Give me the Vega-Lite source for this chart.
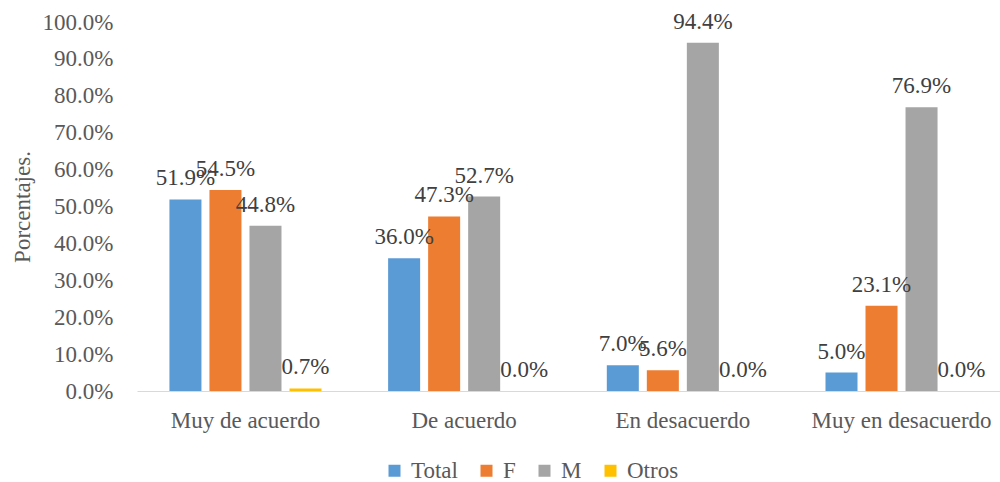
{
  "$schema": "https://vega.github.io/schema/vega-lite/v6.json",
  "width": 863,
  "height": 369,
  "autosize": "none",
  "padding": {"left": 137, "top": 22, "right": 0, "bottom": 91},
  "background": "white",
  "config": {
    "font": "Liberation Serif",
    "view": {"stroke": null},
    "style": {
      "guide-label": {"font": "Liberation Serif"},
      "guide-title": {"font": "Liberation Serif"}
    },
    "mark": {"font": "Liberation Serif"},
    "text": {"font": "Liberation Serif"},
    "legend": {"labelFont": "Liberation Serif"}
  },
  "data": {
    "values": [
      {"categoria": "Muy de acuerdo", "serie": "Total", "valor": 0.519},
      {"categoria": "Muy de acuerdo", "serie": "F", "valor": 0.545},
      {"categoria": "Muy de acuerdo", "serie": "M", "valor": 0.448},
      {"categoria": "Muy de acuerdo", "serie": "Otros", "valor": 0.007},
      {"categoria": "De acuerdo", "serie": "Total", "valor": 0.360},
      {"categoria": "De acuerdo", "serie": "F", "valor": 0.473},
      {"categoria": "De acuerdo", "serie": "M", "valor": 0.527},
      {"categoria": "De acuerdo", "serie": "Otros", "valor": 0.0},
      {"categoria": "En desacuerdo", "serie": "Total", "valor": 0.070},
      {"categoria": "En desacuerdo", "serie": "F", "valor": 0.056},
      {"categoria": "En desacuerdo", "serie": "M", "valor": 0.944},
      {"categoria": "En desacuerdo", "serie": "Otros", "valor": 0.0},
      {"categoria": "Muy en desacuerdo", "serie": "Total", "valor": 0.050},
      {"categoria": "Muy en desacuerdo", "serie": "F", "valor": 0.231},
      {"categoria": "Muy en desacuerdo", "serie": "M", "valor": 0.769},
      {"categoria": "Muy en desacuerdo", "serie": "Otros", "valor": 0.0}
    ]
  },
  "encoding": {
    "x": {
      "field": "categoria",
      "type": "nominal",
      "sort": ["Muy de acuerdo", "De acuerdo", "En desacuerdo", "Muy en desacuerdo"],
      "scale": {"range": [0, 873], "paddingInner": 0.268, "paddingOuter": 0.13},
      "axis": {
        "title": null,
        "labelAngle": 0,
        "labelLimit": 0,
        "labelFont": "Liberation Serif",
        "labelFontSize": 23,
        "labelColor": "#595959",
        "labelPadding": 18,
        "ticks": false,
        "grid": false,
        "domain": true,
        "domainColor": "#D9D9D9",
        "domainWidth": 1
      }
    },
    "xOffset": {
      "field": "serie",
      "type": "nominal",
      "sort": ["Total", "F", "M", "Otros"],
      "scale": {"paddingInner": 0.2, "paddingOuter": 0.1}
    },
    "y": {
      "field": "valor",
      "type": "quantitative",
      "scale": {"domain": [0, 1], "nice": false},
      "axis": {
        "title": "Porcentajes.",
        "titleFont": "Liberation Serif",
        "titleFontSize": 23,
        "titleFontWeight": "normal",
        "titleColor": "#595959",
        "titlePadding": 8,
        "values": [0, 0.1, 0.2, 0.3, 0.4, 0.5, 0.6, 0.7, 0.8, 0.9, 1.0],
        "format": ".1%",
        "labelFont": "Liberation Serif",
        "labelFontSize": 23,
        "labelColor": "#595959",
        "labelPadding": 24,
        "ticks": false,
        "grid": false,
        "domain": false
      }
    }
  },
  "layer": [
    {
      "mark": {"type": "bar"},
      "encoding": {
        "color": {
          "field": "serie",
          "type": "nominal",
          "sort": ["Total", "F", "M", "Otros"],
          "scale": {
            "domain": ["Total", "F", "M", "Otros"],
            "range": ["#5B9BD5", "#ED7D31", "#A5A5A5", "#FFC000"]
          },
          "legend": {
            "title": null,
            "orient": "none",
            "direction": "horizontal",
            "legendX": 246,
            "legendY": 437,
            "padding": 0,
            "symbolType": "square",
            "symbolSize": 144,
            "symbolStrokeWidth": 0,
            "labelFont": "Liberation Serif",
            "labelFontSize": 23,
            "labelLimit": 0,
            "labelColor": "#595959",
            "labelOffset": 5,
            "columnPadding": 17
          }
        }
      }
    },
    {
      "mark": {
        "type": "text",
        "font": "Liberation Serif",
        "baseline": "alphabetic",
        "align": "center",
        "dy": -14,
        "fontSize": 23,
        "color": "#404040"
      },
      "encoding": {
        "text": {"field": "valor", "type": "quantitative", "format": ".1%"}
      }
    }
  ]
}
